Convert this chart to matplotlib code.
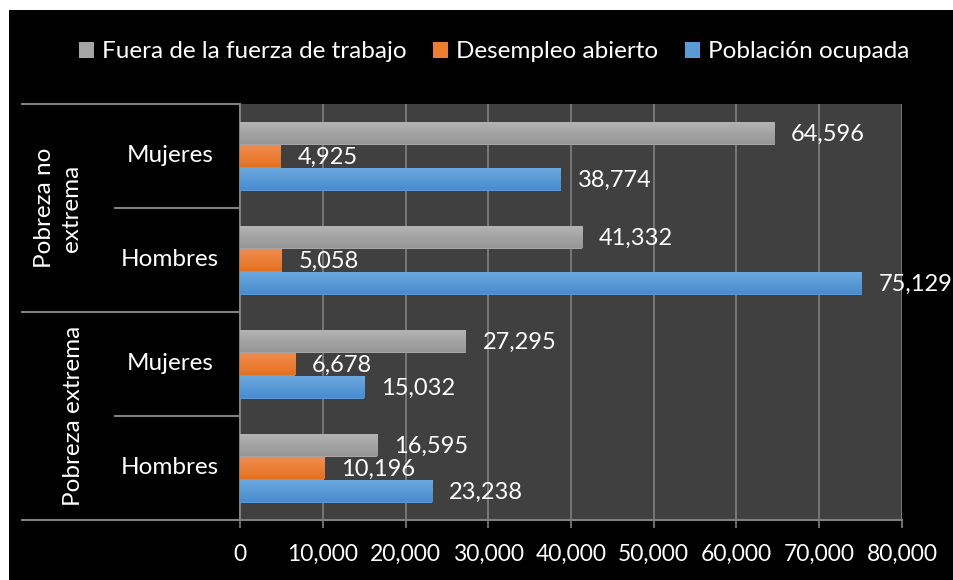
import matplotlib
matplotlib.use("Agg")
import matplotlib.pyplot as plt
from matplotlib.patches import Rectangle
from matplotlib.lines import Line2D
from matplotlib.colors import to_rgb
import matplotlib.transforms as mtransforms
import numpy as np

plt.rcParams['font.family'] = ['Lato', 'DejaVu Sans']

groups = ["Pobreza no\nextrema", "Pobreza extrema"]
categories = ["Mujeres", "Hombres", "Mujeres", "Hombres"]
series_names = ["Fuera de la fuerza de trabajo", "Desempleo abierto", "Población ocupada"]
fuera = [64596, 41332, 27295, 16595]
desempleo = [4925, 5058, 6678, 10196]
ocupada = [38774, 75129, 15032, 23238]
xticks = [0, 10000, 20000, 30000, 40000, 50000, 60000, 70000, 80000]

colors = ["#a5a5a5", "#ed7d31", "#5b9bd5"]
grad_top = ["#b4b4b4", "#f38e52", "#6caae0"]
grad_bot = ["#969696", "#e5711f", "#4a8ccf"]

W, H = 954, 580
fig = plt.figure(figsize=(W / 100, H / 100), dpi=100, facecolor="white")
fig.patches.append(Rectangle((9 / W, 0), 1 - 9 / W, 1 - 10 / H, transform=fig.transFigure,
                             facecolor="black", edgecolor="none", zorder=-10))

left, right, top, bottom = 240, 902, 104, 520
ax = fig.add_axes([left / W, 1 - bottom / H, (right - left) / W, (bottom - top) / H])
ax.set_facecolor("#404040")

y = np.arange(len(categories))
h = 23 / 104
series = [fuera, desempleo, ocupada]
for i, (vals, c, name) in enumerate(zip(series, colors, series_names)):
    pos = y + (i - 1) * h
    bars = ax.barh(pos, vals, height=h, color=c, label=name, zorder=3)
    t = np.array(to_rgb(grad_top[i]))
    b = np.array(to_rgb(grad_bot[i]))
    g = np.linspace(0, 1, 32)[:, None, None]
    img = (t[None, None, :] * (1 - g) + b[None, None, :] * g)
    for bar, p, v in zip(bars, pos, vals):
        im = ax.imshow(img, extent=(0, v, p + h / 2, p - h / 2), aspect="auto",
                       origin="upper", zorder=3.5, interpolation="bilinear")
        im.set_clip_path(bar)
        ax.annotate(f"{v:,}", (v, p), xytext=(12, -1), textcoords="offset points",
                    va="center", ha="left", color="white", fontsize=17, zorder=4)

ax.set_xlim(0, 80000)
ax.set_ylim(3.5, -0.5)
ax.set_xticks(xticks)
ax.set_xticklabels([f"{t:,}" for t in xticks], color="white", fontsize=16.5)
ax.tick_params(axis="x", length=6, color="#808080", width=1.2, pad=11)
ax.set_yticks([])
ax.grid(axis="x", color="#808080", linewidth=1.2, zorder=0)
for s in ["top", "right"]:
    ax.spines[s].set_visible(False)
for s in ["left", "bottom"]:
    ax.spines[s].set_color("#808080")
    ax.spines[s].set_linewidth(1.5)

# hierarchical category axis
tr = mtransforms.blended_transform_factory(fig.transFigure, ax.transData)
line_kw = dict(color="#808080", linewidth=1.5, transform=tr, clip_on=False)
for yb in [-0.5, 1.5, 3.5]:
    fig.add_artist(Line2D([22 / W, left / W], [yb, yb], **line_kw))
for yb in [0.5, 2.5]:
    fig.add_artist(Line2D([115 / W, left / W], [yb, yb], **line_kw))
for yi, cat in zip(y, categories):
    ax.text(170 / W, yi, cat, transform=tr, ha="center", va="center", color="white", fontsize=17.5)
ax.text(58 / W, 0.5, groups[0], transform=tr, ha="center", va="center", color="white",
        fontsize=17.5, rotation=90, linespacing=1.35)
ax.text(74 / W, 2.5, groups[1], transform=tr, ha="center", va="center", color="white",
        fontsize=17.5, rotation=90)

leg = fig.legend(loc="center", bbox_to_anchor=(494 / W, 1 - 52 / H), ncol=3, frameon=False,
                 fontsize=17.5, handlelength=0.62, handleheight=0.62, handletextpad=0.33,
                 columnspacing=1.1, labelcolor="white")

fig.savefig("out.png", dpi=100, facecolor="white")
